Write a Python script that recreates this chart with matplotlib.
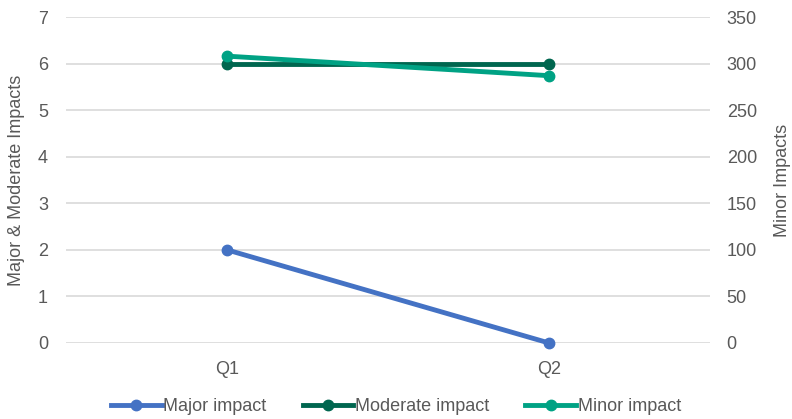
import matplotlib.pyplot as plt

plt.rcParams['font.family'] = ['Liberation Sans', 'DejaVu Sans']

# 분기별 영향 건수
quarters = ['Q1', 'Q2']
major = [2, 0]
moderate = [6, 6]
minor = [308, 287]  # 오른쪽 축

text_color = '#595959'
grid_color = '#D9D9D9'

fig = plt.figure(figsize=(7.92, 4.19), dpi=100)
ax = fig.add_axes([0.0833, 0.1814, 0.8132, 0.778])
ax2 = ax.twinx()

x = [0.5, 1.5]
style = dict(lw=3.5, marker='o', ms=7.5, clip_on=False)
l1, = ax.plot(x, major, color='#4472C4', label='Major impact', **style)
l2, = ax.plot(x, moderate, color='#00664F', label='Moderate impact', **style)
l3, = ax2.plot(x, minor, color='#00A284', label='Minor impact', **style)

ax.set_xlim(0, 2)
ax.set_ylim(0, 7)
ax2.set_ylim(0, 350)
ax.set_yticks(range(0, 8))
ax2.set_yticks(range(0, 351, 50))
ax.set_xticks(x)
ax.set_xticklabels(quarters)

ax.grid(axis='y', color=grid_color, lw=1.2)
ax.set_axisbelow(True)
for a in (ax, ax2):
    for s in a.spines.values():
        s.set_visible(False)
    a.tick_params(length=0, labelsize=13, labelcolor=text_color)
ax.tick_params(axis='y', pad=13)
ax2.tick_params(axis='y', pad=12)
ax.tick_params(axis='x', pad=13)

ax.set_ylabel('Major & Moderate Impacts', fontsize=13, color=text_color, labelpad=9)
ax2.set_ylabel('Minor Impacts', fontsize=13, color=text_color, labelpad=12)

fig.legend(handles=[l1, l2, l3], loc='lower center', bbox_to_anchor=(0.5, -0.03), ncol=3,
           frameon=False, fontsize=13, labelcolor=text_color, handlelength=2.8,
           handletextpad=0.1, columnspacing=2.0)

fig.savefig('out.png', dpi=100)
